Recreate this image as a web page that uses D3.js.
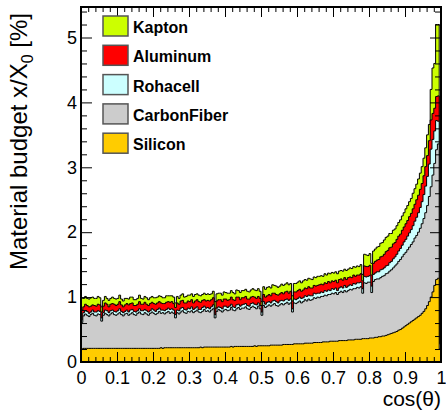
<!DOCTYPE html>
<html><head><meta charset="utf-8">
<script src="https://cdn.jsdelivr.net/npm/d3@7"></script>
<style>
body{margin:0;background:#fff}
svg{display:block}
text{font-family:"Liberation Sans",Arial,Helvetica,sans-serif}
</style>
</head><body>
<svg id="c" width="446" height="411"></svg>
<script>
// ---- histogram binning ----
const nBins = 200, xMin = 0, xMax = 1;

// ---- stacked components (bottom to top) ----
const materials = ["Silicon", "CarbonFiber", "Rohacell", "Aluminum", "Kapton"];
const colors    = ["#ffcc00", "#cccccc", "#ccffff", "#ff0000", "#ccff00"];
const legendOrder = ["Kapton", "Aluminum", "Rohacell", "CarbonFiber", "Silicon"];

const silicon = [
.20,.21,.21,.21,.21,.21,.21,.21,.21,.21,
.21,.21,.21,.21,.21,.21,.21,.21,.21,.21,
.21,.21,.21,.21,.21,.21,.21,.21,.21,.21,
.21,.21,.21,.21,.21,.21,.21,.21,.21,.21,
.21,.21,.21,.21,.22,.21,.22,.22,.22,.22,
.22,.22,.22,.22,.22,.22,.22,.22,.22,.22,
.22,.22,.22,.22,.22,.22,.23,.22,.23,.23,
.23,.23,.23,.23,.23,.23,.23,.23,.23,.23,
.23,.23,.23,.24,.23,.24,.24,.24,.24,.24,
.24,.24,.24,.24,.24,.24,.25,.24,.25,.25,
.25,.25,.25,.25,.25,.26,.26,.26,.26,.26,
.26,.26,.27,.27,.27,.27,.27,.27,.28,.28,
.28,.28,.28,.28,.29,.29,.29,.29,.29,.30,
.30,.30,.30,.30,.31,.31,.31,.31,.32,.32,
.32,.32,.32,.33,.33,.33,.33,.33,.34,.34,
.34,.34,.35,.35,.35,.35,.36,.36,.36,.36,
.37,.37,.37,.38,.38,.39,.39,.40,.40,.41,
.42,.43,.44,.45,.46,.47,.49,.50,.52,.54,
.56,.58,.60,.62,.64,.66,.68,.70,.72,.75,
.78,.82,.87,.93,1.00,1.08,1.18,1.27,1.29,.20];

const carbonFiber = [
.41,.50,.53,.51,.49,.52,.54,.51,.50,.53,
.52,.42,.51,.54,.52,.50,.53,.55,.52,.51,
.53,.55,.52,.50,.53,.54,.51,.53,.55,.52,
.51,.54,.56,.53,.52,.55,.53,.51,.54,.56,
.54,.52,.54,.57,.53,.55,.52,.54,.56,.53,
.55,.53,.46,.54,.52,.55,.57,.54,.53,.56,
.55,.57,.54,.56,.58,.55,.53,.56,.58,.55,
.56,.54,.57,.59,.45,.55,.58,.56,.54,.57,
.58,.56,.57,.60,.57,.55,.58,.60,.57,.59,
.59,.61,.58,.57,.60,.62,.59,.58,.61,.57,
.47,.62,.59,.61,.63,.60,.62,.64,.61,.60,
.62,.64,.61,.63,.65,.62,.64,.50,.63,.62,
.64,.66,.63,.65,.67,.65,.68,.66,.67,.69,
.68,.70,.69,.71,.70,.72,.71,.73,.72,.74,
.73,.75,.72,.74,.76,.74,.77,.75,.76,.78,
.77,.79,.78,.80,.79,.81,.70,.86,.85,.87,
.86,.70,.87,.89,.90,.89,.91,.92,.93,.95,
.95,.97,.98,1.00,1.02,1.04,1.06,1.08,1.10,1.12,
1.13,1.15,1.17,1.19,1.21,1.25,1.27,1.30,1.34,1.38,
1.43,1.48,1.54,1.62,1.70,1.80,1.88,2.00,2.07,.08];

const rohacell = [
.04,.05,.05,.06,.05,.04,.05,.05,.06,.05,
.05,.05,.04,.05,.06,.05,.05,.04,.05,.05,
.05,.06,.05,.05,.04,.05,.05,.06,.05,.05,
.05,.04,.05,.05,.06,.05,.05,.05,.04,.05,
.05,.05,.06,.05,.05,.04,.05,.05,.05,.06,
.05,.05,.05,.04,.05,.06,.05,.05,.05,.05,
.05,.06,.05,.05,.05,.04,.05,.06,.05,.05,
.05,.05,.05,.06,.05,.05,.04,.05,.05,.06,
.05,.05,.06,.05,.05,.05,.06,.05,.05,.05,
.06,.05,.05,.05,.06,.05,.05,.06,.05,.05,
.05,.06,.05,.06,.05,.05,.06,.05,.06,.05,
.06,.05,.06,.06,.05,.06,.06,.05,.06,.06,
.06,.06,.07,.06,.06,.07,.06,.07,.06,.07,
.07,.06,.07,.07,.06,.07,.07,.07,.06,.07,
.07,.07,.06,.07,.07,.07,.08,.07,.07,.07,
.07,.08,.07,.07,.08,.07,.07,.10,.10,.09,
.10,.10,.11,.10,.11,.11,.12,.11,.12,.12,
.12,.13,.13,.14,.14,.15,.16,.17,.18,.19,
.20,.21,.22,.23,.25,.26,.28,.30,.32,.34,
.37,.41,.45,.50,.58,.55,.50,.45,.35,.02];

const aluminum = [
.15,.09,.10,.09,.10,.09,.08,.10,.09,.10,
.10,.09,.10,.11,.10,.09,.10,.10,.11,.10,
.10,.11,.10,.09,.10,.10,.11,.10,.10,.09,
.10,.10,.11,.10,.10,.11,.10,.10,.11,.10,
.10,.11,.10,.10,.11,.10,.11,.11,.10,.11,
.11,.10,.11,.11,.10,.11,.11,.10,.11,.11,
.11,.11,.10,.11,.11,.12,.11,.11,.10,.11,
.11,.12,.11,.11,.10,.11,.11,.12,.11,.11,
.11,.11,.10,.11,.11,.11,.12,.11,.10,.11,
.10,.11,.10,.11,.10,.10,.11,.10,.10,.11,
.10,.11,.11,.10,.11,.11,.12,.11,.11,.12,
.11,.12,.11,.12,.12,.11,.12,.12,.11,.12,
.12,.12,.11,.12,.12,.12,.13,.12,.12,.12,
.12,.12,.13,.12,.12,.12,.12,.13,.12,.12,
.12,.12,.12,.13,.12,.12,.12,.12,.13,.12,
.12,.13,.12,.12,.12,.13,.12,.16,.16,.15,
.16,.17,.17,.18,.18,.19,.20,.20,.21,.22,
.23,.23,.22,.23,.22,.23,.23,.22,.23,.23,
.24,.24,.25,.25,.26,.26,.27,.27,.28,.28,
.29,.30,.32,.36,.45,.40,.35,.37,.39,.08];

const kapton = [
.18,.13,.12,.11,.12,.13,.12,.11,.12,.12,
.11,.08,.09,.10,.09,.10,.09,.10,.09,.10,
.09,.10,.09,.09,.10,.08,.09,.10,.09,.09,
.09,.09,.10,.09,.08,.09,.10,.09,.09,.09,
.09,.10,.09,.09,.10,.09,.09,.10,.09,.10,
.09,.10,.07,.10,.09,.09,.10,.09,.10,.09,
.10,.09,.10,.10,.09,.10,.10,.09,.10,.10,
.10,.10,.09,.10,.10,.11,.10,.10,.10,.11,
.10,.11,.10,.10,.11,.10,.11,.10,.11,.11,
.11,.11,.12,.11,.11,.12,.11,.12,.12,.11,
.06,.12,.12,.13,.12,.12,.13,.12,.13,.12,
.12,.13,.13,.12,.13,.13,.12,.08,.13,.13,
.13,.13,.13,.14,.13,.13,.13,.14,.13,.13,
.13,.14,.13,.13,.13,.14,.13,.13,.14,.13,
.13,.13,.14,.13,.13,.14,.13,.14,.13,.14,
.14,.13,.14,.14,.13,.14,.10,.18,.18,.17,
.18,.18,.19,.19,.20,.20,.21,.21,.22,.22,
.22,.22,.21,.21,.21,.21,.21,.22,.22,.22,
.23,.23,.23,.23,.24,.24,.24,.25,.25,.26,
.27,.29,.32,.25,.47,.70,.69,1.11,1.10,.02];

// ---- axes ----
const xTicks = [0, 0.1, 0.2, 0.3, 0.4, 0.5, 0.6, 0.7, 0.8, 0.9, 1];
const xTickLabels = ["0", "0.1", "0.2", "0.3", "0.4", "0.5", "0.6", "0.7", "0.8", "0.9", "1"];
const yTicks = [0, 1, 2, 3, 4, 5];
const yTickLabels = ["0", "1", "2", "3", "4", "5"];
const yMax = 5.47;
const xTitle = "cos(θ)";

// ---- drawing ----
const svg = d3.select("#c");
const L = 81, R = 441, T = 7, B = 362;
const x = d3.scaleLinear().domain([xMin, xMax]).range([L, R]);
const y = d3.scaleLinear().domain([0, yMax]).range([B, T]);
const bw = (xMax - xMin) / nBins;

const series = [silicon, carbonFiber, rohacell, aluminum, kapton];
const rows = d3.range(nBins).map(i => {
  const r = {i};
  materials.forEach((m, k) => r[m] = series[k][i]);
  return r;
});
const stacked = d3.stack().keys(materials)(rows);

const area = d3.area()
  .curve(d3.curveStepAfter)
  .x(d => x(d.x))
  .y0(y(0))
  .y1(d => y(d.v));

for (let k = materials.length - 1; k >= 0; k--) {
  const pts = d3.range(nBins + 1).map(i => ({
    x: xMin + i * bw,
    v: stacked[k][Math.min(i, nBins - 1)][1]
  }));
  svg.append("path")
    .attr("d", area(pts))
    .attr("fill", colors[k])
    .attr("stroke", "#000")
    .attr("stroke-width", 1)
    .attr("stroke-linejoin", "miter");
}

// minor ticks
const xMinor = d3.range(0, 51).map(i => i * 0.02).filter(v => Math.abs(v * 10 - Math.round(v * 10)) > 1e-6);
const yMinor = d3.range(0, 28).map(i => i * 0.2).filter(v => Math.abs(v - Math.round(v)) > 1e-6 && v <= yMax);

function noLabels(g) { g.selectAll("text").remove(); g.select(".domain").remove(); }

svg.append("g").attr("transform", `translate(0,${B})`)
  .call(d3.axisBottom(x).tickValues(xMinor).tickSize(-5)).call(noLabels);
svg.append("g").attr("transform", `translate(0,${T})`)
  .call(d3.axisTop(x).tickValues(xMinor).tickSize(-5)).call(noLabels);
svg.append("g").attr("transform", `translate(0,${T})`)
  .call(d3.axisTop(x).tickValues(xTicks).tickSize(-10)).call(noLabels);
svg.append("g").attr("transform", `translate(${L},0)`)
  .call(d3.axisLeft(y).tickValues(yMinor).tickSize(-6)).call(noLabels);
svg.append("g").attr("transform", `translate(${R},0)`)
  .call(d3.axisRight(y).tickValues(yMinor).tickSize(-6)).call(noLabels);
svg.append("g").attr("transform", `translate(${R},0)`)
  .call(d3.axisRight(y).tickValues(yTicks).tickSize(-11)).call(noLabels);

const gx = svg.append("g").attr("transform", `translate(0,${B})`)
  .call(d3.axisBottom(x).tickValues(xTicks).tickSize(-10).tickPadding(9)
    .tickFormat((d, i) => xTickLabels[i]));
gx.select(".domain").remove();
gx.selectAll("text").attr("font-size", 18).attr("fill", "#000")
  .attr("font-family", '"Liberation Sans",Arial,sans-serif');

const gy = svg.append("g").attr("transform", `translate(${L},0)`)
  .call(d3.axisLeft(y).tickValues(yTicks).tickSize(-11).tickPadding(4)
    .tickFormat((d, i) => yTickLabels[i]));
gy.select(".domain").remove();
gy.selectAll("text").attr("font-size", 18).attr("fill", "#000")
  .attr("font-family", '"Liberation Sans",Arial,sans-serif');

svg.selectAll(".tick line").attr("stroke", "#000").attr("stroke-width", 1);

// frame
svg.append("rect").attr("x", L).attr("y", T).attr("width", R - L).attr("height", B - T)
  .attr("fill", "none").attr("stroke", "#000").attr("stroke-width", 2);

// axis titles
svg.append("text").attr("x", R).attr("y", 406).attr("text-anchor", "end")
  .attr("font-size", 21).text(xTitle);

const yt = svg.append("text").attr("transform", "translate(27,13) rotate(-90)")
  .attr("text-anchor", "end").attr("font-size", 24);
yt.append("tspan").text("Material budget x/X");
yt.append("tspan").attr("font-size", 16).attr("dy", 6).text("0");
yt.append("tspan").attr("dy", -6).text(" [%]");

// legend
const leg = svg.append("g");
legendOrder.forEach((name, j) => {
  const k = materials.indexOf(name);
  const ty = 16 + j * 29.3;
  leg.append("rect").attr("x", 103).attr("y", ty).attr("width", 25).attr("height", 20)
    .attr("fill", colors[k]).attr("stroke", "#555").attr("stroke-width", 1.5);
  leg.append("text").attr("x", 133).attr("y", ty + 17).attr("font-size", 16)
    .attr("font-weight", "bold").attr("fill", "#000").text(name);
});
</script>
</body></html>
